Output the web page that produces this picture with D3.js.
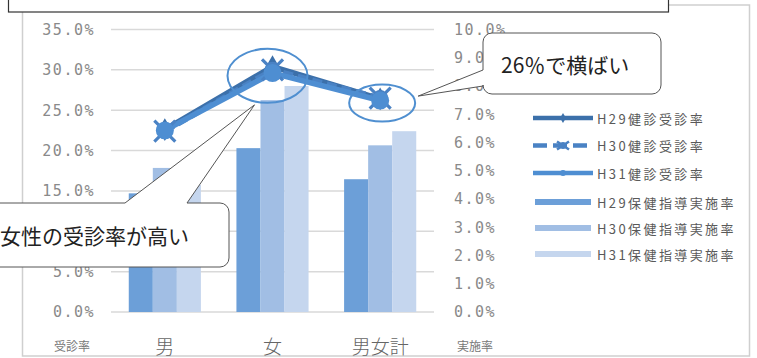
<!DOCTYPE html>
<html>
<head>
<meta charset="utf-8">
<script src="https://cdn.jsdelivr.net/npm/d3@7/dist/d3.min.js"></script>
<style>
  html, body { margin: 0; padding: 0; background: #fff; }
  svg { display: block; }
</style>
</head>
<body>
<svg id="chart" width="757" height="358"></svg>
<script>
// ---- data ----
const categories = ["男", "女", "男女計"];

// 健診受診率 (left axis, %)
const lineSeries = ["H29健診受診率", "H30健診受診率", "H31健診受診率"];
const examH29 = [22.6, 30.4, 26.4];
const examH30 = [22.4, 30.0, 26.5];
const examH31 = [22.5, 29.6, 26.2];

// 保健指導実施率 (right axis, %)
const barSeries = ["H29保健指導実施率", "H30保健指導実施率", "H31保健指導実施率"];
const guideH29 = [4.2, 5.8, 4.7];
const guideH30 = [5.1, 7.5, 5.9];
const guideH31 = [4.5, 8.0, 6.4];

const leftTicks = [0, 5, 10, 15, 20, 25, 30, 35];
const rightTicks = [0, 1, 2, 3, 4, 5, 6, 7, 8, 9, 10];

const noteHigh = "女性の受診率が高い";
const noteFlat = "26％で横ばい";

// ---- layout ----
const svg = d3.select("#chart");
const plot = { left: 111, right: 434, top: 29.5, bottom: 312 };

const x0 = d3.scaleBand().domain(categories)
  .range([plot.left, plot.right]).paddingInner(0.33).paddingOuter(0.165);
const x1 = d3.scaleBand().domain(barSeries).range([0, x0.bandwidth()]).padding(0);
const yL = d3.scaleLinear().domain([0, 35]).range([plot.bottom, plot.top]);
const yR = d3.scaleLinear().domain([0, 10]).range([plot.bottom, plot.top]);

const barColors = ["#6c9fd8", "#a1bee4", "#c5d6ee"];
const lineColors = ["#3c70aa", "#4a82c4", "#4e8ed2"];
const tickFont = "'DejaVu Sans Mono', monospace";
const jpFont = "'Noto Sans CJK JP', 'Noto Sans', sans-serif";

// outer chart frame
svg.append("rect").attr("x", 22.5).attr("y", 5).attr("width", 727).attr("height", 351)
  .attr("fill", "none").attr("stroke", "#cfcfcf").attr("stroke-width", 1.5);

// gridlines
svg.append("g").selectAll("line").data(leftTicks).join("line")
  .attr("x1", plot.left).attr("x2", plot.right)
  .attr("y1", d => yL(d)).attr("y2", d => yL(d))
  .attr("stroke", "#d9d9d9").attr("stroke-width", 1.5);

// left axis labels
const axisL = d3.axisLeft(yL).tickValues(leftTicks).tickSize(0).tickPadding(0)
  .tickFormat(d => d3.format(".1f")(d) + "%");
svg.append("g").attr("transform", "translate(95,0)").call(axisL)
  .call(g => g.select(".domain").remove())
  .call(g => g.selectAll("text").attr("font-family", tickFont).attr("font-size", 15)
    .attr("letter-spacing", 1.5).attr("fill", "#8a8a8a"));

// right axis labels
const axisR = d3.axisRight(yR).tickValues(rightTicks).tickSize(0).tickPadding(0)
  .tickFormat(d => d3.format(".1f")(d) + "%");
svg.append("g").attr("transform", "translate(454,0)").call(axisR)
  .call(g => g.select(".domain").remove())
  .call(g => g.selectAll("text").attr("font-family", tickFont).attr("font-size", 15)
    .attr("letter-spacing", 1.5).attr("fill", "#8a8a8a"));

// axis titles
svg.append("text").attr("x", 72).attr("y", 345).attr("text-anchor", "middle")
  .attr("dominant-baseline", "central").attr("font-family", jpFont).attr("font-size", 12)
  .attr("fill", "#777").text("受診率");
svg.append("text").attr("x", 475).attr("y", 345).attr("text-anchor", "middle")
  .attr("dominant-baseline", "central").attr("font-family", jpFont).attr("font-size", 12)
  .attr("fill", "#777").text("実施率");

// category labels
svg.append("g").selectAll("text").data(categories).join("text")
  .attr("x", d => x0(d) + x0.bandwidth() / 2).attr("y", 345)
  .attr("text-anchor", "middle").attr("dominant-baseline", "central")
  .attr("font-family", jpFont).attr("font-size", 19).attr("font-weight", 300).attr("fill", "#666")
  .text(d => d);

// bars
const barValues = [guideH29, guideH30, guideH31];
const barRows = [];
categories.forEach((c, i) => barSeries.forEach((s, j) =>
  barRows.push({ cat: c, series: s, value: barValues[j][i], k: j })));
svg.append("g").selectAll("rect").data(barRows).join("rect")
  .attr("x", d => x0(d.cat) + x1(d.series))
  .attr("y", d => yR(d.value))
  .attr("width", x1.bandwidth())
  .attr("height", d => yR(0) - yR(d.value))
  .attr("fill", d => barColors[d.k]);

// lines
const lineValues = [examH29, examH30, examH31];
const cx = c => x0(c) + x0.bandwidth() / 2;
const lineGen = d3.line().x(d => cx(d.cat)).y(d => yL(d.value));
const lineRows = lineValues.map((vals, k) => categories.map((c, i) => ({ cat: c, value: vals[i], k })));

const gl = svg.append("g");
lineRows.forEach((rows, k) => {
  gl.append("path").datum(rows).attr("d", lineGen).attr("fill", "none")
    .attr("stroke", lineColors[k]).attr("stroke-width", 5.5)
    .attr("stroke-linejoin", "round")
    .attr("stroke-dasharray", k === 1 ? "10,5" : null);
});

// markers
function drawMarker(g, k, px, py, scale) {
  const c = lineColors[k];
  if (k === 0) {
    g.append("path").attr("d", d3.symbol(d3.symbolDiamond, 150 * scale * scale)())
      .attr("transform", `translate(${px},${py})`).attr("fill", c);
  } else if (k === 1) {
    const a = 10.5 * scale;
    g.append("path").attr("d", `M${px - a},${py - a}L${px + a},${py + a}M${px - a},${py + a}L${px + a},${py - a}`)
      .attr("stroke", c).attr("stroke-width", 3.2 * scale);
    g.append("circle").attr("cx", px).attr("cy", py).attr("r", 8 * scale).attr("fill", c);
  } else {
    g.append("circle").attr("cx", px).attr("cy", py).attr("r", 9 * scale).attr("fill", c);
  }
}
lineRows.forEach((rows, k) => rows.forEach(d => drawMarker(gl, k, cx(d.cat), yL(d.value), 1)));

// highlight ellipses
const pFemale = { x: cx("女"), y: yL(examH30[1]) };
const pTotal = { x: cx("男女計"), y: yL(examH30[2]) };
svg.append("ellipse").attr("cx", pFemale.x - 5).attr("cy", pFemale.y + 6)
  .attr("rx", 40).attr("ry", 27).attr("fill", "none").attr("stroke", "#4f8fd0").attr("stroke-width", 2);
svg.append("ellipse").attr("cx", pTotal.x + 2).attr("cy", pTotal.y + 5)
  .attr("rx", 33).attr("ry", 18.5).attr("fill", "none").attr("stroke", "#4f8fd0").attr("stroke-width", 2);

// callout bubbles: rounded box with a pointer
function bubble(box, r, side, b1, b2, tip) {
  const { x, y, w, h } = box;
  const p = d3.path();
  p.moveTo(x + r, y);
  if (side === "top") { p.lineTo(b1, y); p.lineTo(tip[0], tip[1]); p.lineTo(b2, y); }
  p.lineTo(x + w - r, y); p.arcTo(x + w, y, x + w, y + r, r);
  p.lineTo(x + w, y + h - r); p.arcTo(x + w, y + h, x + w - r, y + h, r);
  p.lineTo(x + r, y + h); p.arcTo(x, y + h, x, y + h - r, r);
  if (side === "left") { p.lineTo(x, b2); p.lineTo(tip[0], tip[1]); p.lineTo(x, b1); }
  p.lineTo(x, y + r); p.arcTo(x, y, x + r, y, r);
  p.closePath();
  return p.toString();
}

const boxHigh = { x: -12, y: 203, w: 241, h: 64 };
svg.append("path")
  .attr("d", bubble(boxHigh, 9, "top", 125, 187, [pFemale.x - 18, pFemale.y + 35]))
  .attr("fill", "#fff").attr("stroke", "#555").attr("stroke-width", 1);
svg.append("text").attr("x", 0).attr("y", 235).attr("dominant-baseline", "central")
  .attr("font-family", jpFont).attr("font-size", 21).attr("fill", "#222").text(noteHigh);

const boxFlat = { x: 483, y: 33, w: 178, h: 61 };
svg.append("path")
  .attr("d", bubble(boxFlat, 9, "left", 70, 86, [pTotal.x + 38, pTotal.y - 2]))
  .attr("fill", "#fff").attr("stroke", "#555").attr("stroke-width", 1);
svg.append("text").attr("x", 501).attr("y", 64).attr("dominant-baseline", "central")
  .attr("font-family", jpFont).attr("font-size", 21).attr("fill", "#222").text(noteFlat);

// legend
const lg = svg.append("g");
const legendX = 533, legendW = 60, legendTextX = 597;
lineSeries.forEach((s, k) => {
  const ly = 118 + k * 27.5;
  lg.append("line").attr("x1", legendX).attr("x2", legendX + legendW).attr("y1", ly).attr("y2", ly)
    .attr("stroke", lineColors[k]).attr("stroke-width", 4.5)
    .attr("stroke-dasharray", k === 1 ? "14,6" : null);
  if (k === 0) {
    lg.append("path").attr("d", d3.symbol(d3.symbolDiamond, 30)())
      .attr("transform", `translate(${legendX + legendW / 2},${ly})`).attr("fill", lineColors[k]);
  } else if (k === 1) {
    const m = legendX + legendW / 2;
    lg.append("path").attr("d", `M${m - 6},${ly - 4}L${m + 6},${ly + 4}M${m - 6},${ly + 4}L${m + 6},${ly - 4}`)
      .attr("stroke", lineColors[k]).attr("stroke-width", 2.5);
    lg.append("circle").attr("cx", m).attr("cy", ly).attr("r", 3.5).attr("fill", lineColors[k]);
  } else {
    lg.append("circle").attr("cx", legendX + legendW / 2).attr("cy", ly).attr("r", 3).attr("fill", lineColors[k]);
  }
  lg.append("text").attr("x", legendTextX).attr("y", ly).attr("dominant-baseline", "central")
    .attr("font-family", jpFont).attr("font-size", 13).attr("letter-spacing", 2.4)
    .attr("fill", "#595959").text(s);
});
barSeries.forEach((s, k) => {
  const ly = 202 + k * 26;
  lg.append("rect").attr("x", legendX + 2).attr("y", ly - 3).attr("width", legendW - 4).attr("height", 6)
    .attr("fill", barColors[k]);
  lg.append("text").attr("x", legendTextX).attr("y", ly).attr("dominant-baseline", "central")
    .attr("font-family", jpFont).attr("font-size", 13).attr("letter-spacing", 2.4)
    .attr("fill", "#595959").text(s);
});

// text box frame across the top edge
svg.append("rect").attr("x", 8.5).attr("y", -5).attr("width", 660).attr("height", 17)
  .attr("fill", "#fff").attr("stroke", "#333").attr("stroke-width", 1.2);
</script>
</body>
</html>
